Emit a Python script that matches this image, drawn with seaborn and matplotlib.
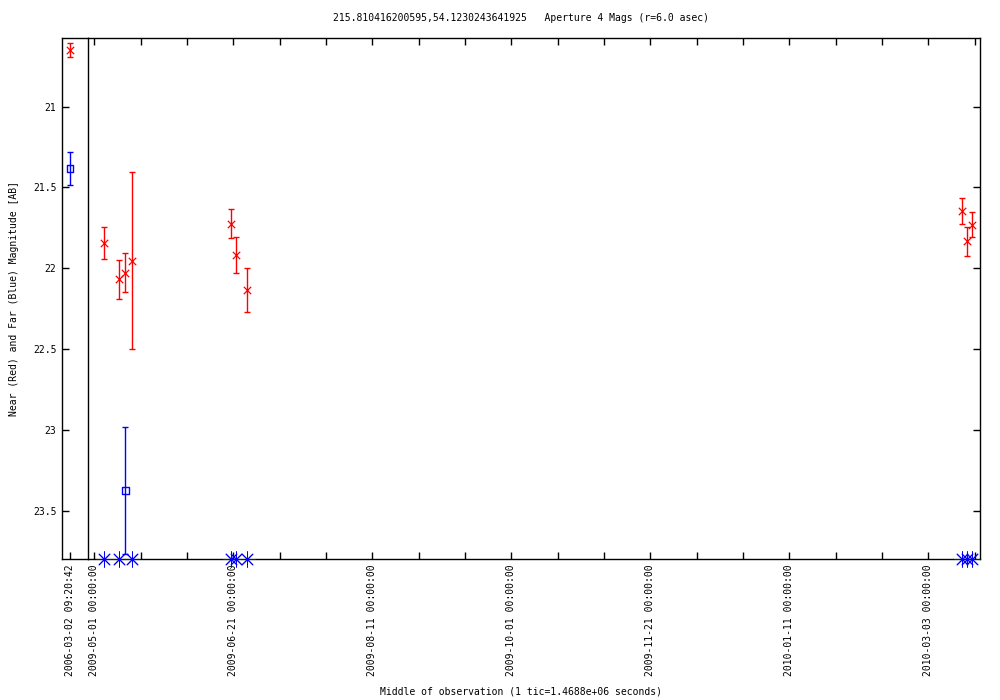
import numpy as np
import pandas as pd
import matplotlib as mpl
mpl.use('Agg')
import matplotlib.pyplot as plt
import seaborn as sns

sns.set_style('white')
plt.rcParams['font.family'] = ['DejaVu Sans Mono']
plt.rcParams['font.size'] = 7
plt.rcParams['text.color'] = 'black'
plt.rcParams['xtick.color'] = 'black'
plt.rcParams['ytick.color'] = 'black'

# first epoch (2006) sits in its own narrow panel left of the break
early_time = ['2006-03-02 09:20:42']
early_near = [20.652]
early_near_err = [0.043]
early_far = [21.384]
early_far_err = [0.10]

# 2009-2010 near (red) detections
near_time = ['2009-05-04 16:00', '2009-05-10 04:00', '2009-05-12 09:00', '2009-05-14 17:00',
             '2009-06-20 04:00', '2009-06-22 00:00', '2009-06-26 03:00',
             '2010-03-15 12:00', '2010-03-17 07:00', '2010-03-19 02:00']
near_mag = [21.843, 22.070, 22.029, 21.953, 21.726, 21.918, 22.134, 21.644, 21.835, 21.730]
near_err = [0.10, 0.118, 0.12, 0.55, 0.089, 0.11, 0.136, 0.08, 0.09, 0.08]

# far (blue) detection
far_time = ['2009-05-12 09:00']
far_mag = [23.376]
far_err = [0.39]

# far non-detections, plotted at the faint limit
lim_time = ['2009-05-04 16:00', '2009-05-10 04:00', '2009-05-14 17:00',
            '2009-06-20 04:00', '2009-06-22 00:00', '2009-06-26 03:00',
            '2010-03-15 12:00', '2010-03-17 07:00', '2010-03-19 02:00']
lim_mag = [23.8, 23.8, 23.8, 23.8, 23.8, 23.8, 23.8, 23.8, 23.8]

ytick_vals = [21, 21.5, 22, 22.5, 23, 23.5]
ytick_labels = ['21', '21.5', '22', '22.5', '23', '23.5']

early_t = pd.to_datetime(early_time)
near_t = pd.to_datetime(near_time)
far_t = pd.to_datetime(far_time)
lim_t = pd.to_datetime(lim_time)

fig = plt.figure(figsize=(10, 7), dpi=100)
ax0 = fig.add_axes([0.062, 0.2014, 0.026, 0.7443])
ax1 = fig.add_axes([0.088, 0.2014, 0.892, 0.7443])

red = '#ff0000'
blue = '#0000ff'
eb = dict(fmt='none', elinewidth=1, capsize=2.4, capthick=1)

# left panel (2006)
ax0.errorbar(early_t, early_near, yerr=early_near_err, ecolor=red, **eb)
ax0.errorbar(early_t, early_far, yerr=early_far_err, ecolor=blue, **eb)
sns.scatterplot(x=early_t, y=early_near, ax=ax0, marker='x', color=red, s=28, linewidth=0.9)
sns.scatterplot(x=early_t, y=early_far, ax=ax0, marker='s', facecolor='none',
                edgecolor=blue, s=22, linewidth=1, zorder=3)

# right panel (2009-2010)
ax1.errorbar(near_t, near_mag, yerr=near_err, ecolor=red, **eb)
ax1.errorbar(far_t, far_mag, yerr=far_err, ecolor=blue, **eb)
sns.scatterplot(x=near_t, y=near_mag, ax=ax1, marker='x', color=red, s=28, linewidth=0.9)
sns.scatterplot(x=far_t, y=far_mag, ax=ax1, marker='s', facecolor='none',
                edgecolor=blue, s=22, linewidth=1, zorder=3)
sns.scatterplot(x=lim_t, y=lim_mag, ax=ax1, marker=(8, 2, 0), color=blue, edgecolor=blue,
                s=120, linewidth=0.7, clip_on=False, zorder=5)

for ax in (ax0, ax1):
    ax.set_ylim(23.8, 20.576)
    ax.set_yticks(ytick_vals)
    ax.set_xlabel('')
    ax.set_ylabel('')
    for sp in ax.spines.values():
        sp.set_color('black')
        sp.set_linewidth(1)
    ax.tick_params(direction='in', length=5, width=1, colors='black', labelsize=7, pad=4)

ax0.set_yticklabels(ytick_labels)
ax0.set_xlim(pd.Timestamp('2006-02-27 11:00'), pd.Timestamp('2006-03-08 23:45'))
ax0.set_xticks(early_t)
ax0.set_xticklabels(['2006-03-02 09:20:42'], rotation=90)
ax0.spines['right'].set_visible(False)
ax0.tick_params(left=True, right=False, top=False, bottom=True)

ticks = pd.date_range('2009-05-01', periods=20, freq='17D')
tick_labels = [t.strftime('%Y-%m-%d %H:%M:%S') if i % 3 == 0 else '' for i, t in enumerate(ticks)]
ax1.set_xlim(pd.Timestamp('2009-04-28 16:30'), pd.Timestamp('2010-03-21 23:00'))
ax1.set_xticks(ticks)
ax1.set_xticklabels(tick_labels, rotation=90)
ax1.tick_params(left=False, right=True, top=True, bottom=True, labelleft=False)

fig.text(0.521, 1 - 18 / 700, '215.810416200595,54.1230243641925   Aperture 4 Mags (r=6.0 asec)',
         ha='center', va='center', fontsize=7)
fig.text(0.521, 1 - 692 / 700, 'Middle of observation (1 tic=1.4688e+06 seconds)',
         ha='center', va='center', fontsize=7)
fig.text(0.014, 1 - 298 / 700, 'Near (Red) and Far (Blue) Magnitude [AB]',
         ha='center', va='center', rotation=90, fontsize=7)

plt.savefig('out.png', dpi=100)
